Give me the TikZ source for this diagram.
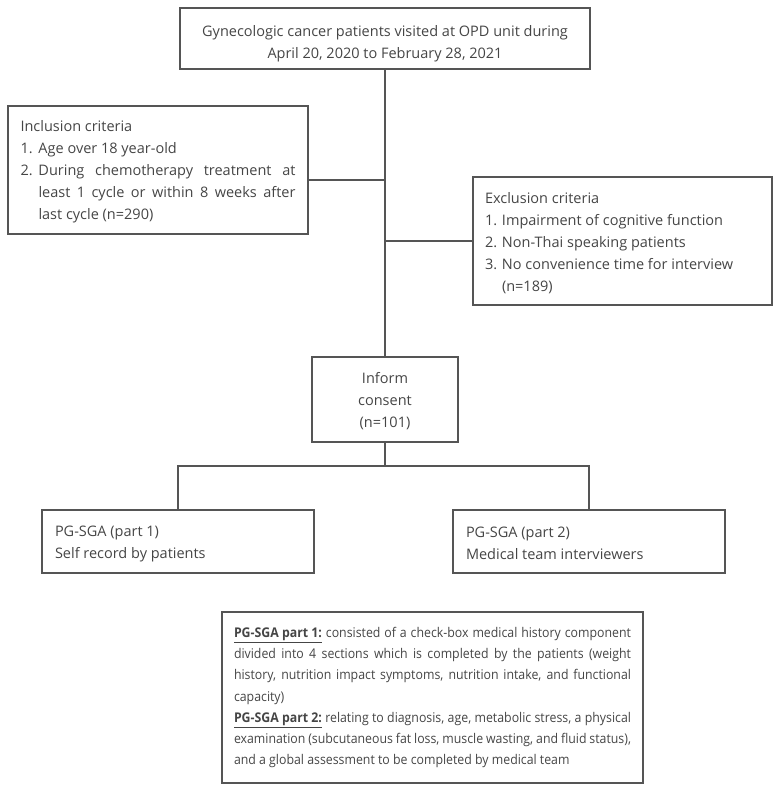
\documentclass[tikz,border=0pt]{standalone}
\usepackage{fontspec}
\setmainfont{Open Sans}
\newfontfamily\notefont[FakeStretch=0.92]{Open Sans}
\usetikzlibrary{calc}
\definecolor{txt}{HTML}{454545}
\definecolor{ln}{HTML}{555555}
\hbadness=10000
\newcommand\lowr[2]{\raisebox{-#1}[\height][\depth]{#2}}
\begin{document}
\begin{tikzpicture}[x=1pt,y=-1pt,
  box/.style={draw=ln,line width=1.1pt,text=txt,inner sep=0pt,font=\fontsize{14.5}{22}\selectfont},
  conn/.style={draw=ln,line width=1.1pt}]
\useasboundingbox (0,0) rectangle (782,793);
\node[box,minimum width=410pt,minimum height=61pt] (top) at (385,38.5)
  {\lowr{5pt}{\begin{minipage}{400pt}\centering
  Gynecologic cancer patients visited at OPD unit during\\April 20, 2020 to February 28, 2021\end{minipage}}};
\node[box,minimum width=300pt,minimum height=128pt] (incl) at (158,170)
  {\lowr{2pt}{\begin{minipage}{275pt}\setlength{\parindent}{0pt}\raggedright
  Inclusion criteria\par
  \makebox[18pt][l]{1.}Age over 18 year-old\par
  \makebox[18pt][l]{2.}\hbox to 257pt{During chemotherapy treatment at}\par
  \hspace*{18pt}\hbox to 257pt{least 1 cycle or within 8 weeks after}\par
  \hspace*{18pt}last cycle (n=290)\par
  \end{minipage}}};
\node[box,minimum width=299pt,minimum height=128pt] (excl) at (622.5,241)
  {\lowr{2.5pt}{\begin{minipage}{275pt}\setlength{\parindent}{0pt}\raggedright
  Exclusion criteria\par
  \makebox[17pt][l]{1.}Impairment of cognitive function\par
  \makebox[17pt][l]{2.}Non-Thai speaking patients\par
  \makebox[17pt][l]{3.}No convenience time for interview\par
  \hspace*{17pt}(n=189)\par
  \end{minipage}}};
\node[box,minimum width=146pt,minimum height=85pt] (inf) at (385,399.5)
  {\lowr{2pt}{\begin{minipage}{140pt}\centering Inform\\consent\\(n=101)\end{minipage}}};
\node[box,minimum width=272pt,minimum height=63pt] (p1) at (178,541.5)
  {\lowr{2pt}{\begin{minipage}{246pt}\raggedright
  PG-SGA (part 1)\\Self record by patients\end{minipage}}};
\node[box,minimum width=272pt,minimum height=63pt] (p2) at (589,541.5)
  {\lowr{2pt}{\begin{minipage}{246pt}\raggedright
  PG-SGA (part 2)\\Medical team interviewers\end{minipage}}};
\node[box,minimum width=421pt,minimum height=171pt,font=\notefont\fontsize{13.4}{21.2}\selectfont] (note) at (432.5,697.5)
  {\lowr{0pt}{\begin{minipage}{397pt}\setlength{\parindent}{0pt}
  \underline{\textbf{PG-SGA part 1:}} consisted of a check-box medical history component\linebreak
  divided into 4 sections which is completed by the patients (weight\linebreak
  history, nutrition impact symptoms, nutrition intake, and functional\linebreak
  capacity)\par
  \underline{\textbf{PG-SGA part 2:}} relating to diagnosis, age, metabolic stress, a physical\linebreak
  examination (subcutaneous fat loss, muscle wasting, and fluid status),\linebreak
  and a global assessment to be completed by medical team\par
  \end{minipage}}};
\coordinate (jI) at (385,180);
\coordinate (br) at (385,466);
\draw[conn] (top.south) -- (inf.north);
\draw[conn] (incl.east |- jI) -- (jI);
\draw[conn] (excl.west) -- (excl.west -| top.south);
\draw[conn] (inf.south) -- (br);
\draw[conn] (p1.north) |- (br) -| (p2.north);
\end{tikzpicture}
\end{document}
